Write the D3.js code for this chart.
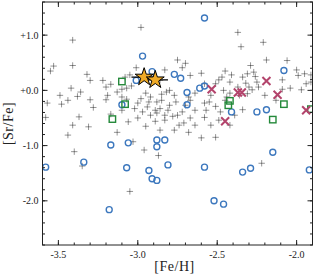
<!DOCTYPE html>
<html><head><meta charset="utf-8">
<script src="https://cdn.jsdelivr.net/npm/d3@7"></script>
<style>body{margin:0;background:#fff}svg{display:block}</style>
</head><body>
<script>
// ---- data ----
const plusFeH = [-3.41,-3.53,-3.55,-3.41,-3.32,-3.30,-3.22,-3.17,-3.20,-3.42,-3.36,-3.38,-3.49,-3.57,-3.48,-3.44,-3.30,-3.28,-3.19,-3.20,-3.13,-3.10,-3.07,-3.04,-3.08,-3.05,-3.10,-3.58,-3.37,-3.41,-3.31,-3.17,-3.13,-3.06,-3.44,-3.10,-3.07,-3.40,-3.35,-3.03,
 -2.75,-2.70,-3.01,-2.72,-2.83,-2.67,-2.60,-2.86,-2.49,-2.51,-2.58,-2.80,-2.82,-2.85,-2.77,-2.98,-2.92,-2.93,-2.88,-2.76,-2.68,-2.58,-2.55,-3.02,-2.97,-2.94,-2.89,-2.88,-2.86,-2.64,-2.51,-2.72,-2.48,-2.78,-2.89,-2.83,-2.71,-2.58,-2.49,-2.74,-2.77,-2.60,-2.51,-2.45,-2.47,
 -2.35,-2.21,-2.37,-2.98,-2.29,-2.19,-2.06,-2.00,-1.95,-1.91,-2.41,-2.34,-2.27,-2.26,-2.09,-2.42,-2.32,-2.30,-2.25,-2.28,-2.24,-2.04,-1.97,-1.94,-2.46,-2.42,-2.44,-2.31,-2.34,-1.91,-1.99,-2.09,-2.31,-2.37,-2.36,
 -2.87,-2.22,-2.96,-3.05,
 -2.95,-3.00,-2.85,-2.80,-2.70,-2.67,-2.64,-2.54,-2.45,-2.83,-2.81,-2.75,-2.67,-2.64,-2.57,-2.54,-2.92,-3.00,-2.95,-2.86,-2.68,-2.42,-2.39,-2.20,-2.13];
const plusSrFe = [0.91,0.44,0.35,0.45,0.29,0.18,0.18,0.11,0.06,0.04,-0.03,-0.11,-0.09,-0.23,-0.25,-0.18,-0.17,-0.31,-0.09,-0.17,-0.03,0.02,0.04,0.08,0.24,0.28,-0.12,-0.49,-0.48,-0.63,-0.66,-0.43,-0.76,-0.57,-0.81,-0.36,-0.16,-1.11,-1.37,-0.93,
 0.55,0.49,0.41,0.41,0.37,0.27,0.31,0.18,0.19,0.12,0.12,0.00,-0.03,-0.07,-0.09,-0.15,-0.12,-0.21,-0.21,-0.21,-0.12,-0.23,-0.21,-0.33,-0.39,-0.30,-0.36,-0.41,-0.33,-0.36,-0.29,-0.39,-0.39,-0.47,-0.56,-0.54,-0.59,-0.49,-0.54,-0.63,-0.72,-0.86,-0.85,0.35,0.24,
 0.79,0.87,1.05,1.14,0.45,0.55,0.54,0.37,0.30,0.28,0.28,0.24,0.33,0.25,0.19,0.15,0.13,0.06,0.15,0.01,0.06,0.04,0.01,0.12,0.00,-0.05,-0.12,-0.06,-0.35,0.15,0.27,0.02,0.30,0.06,-0.09,
 -1.18,-1.32,-1.08,-1.83,
 -0.05,-0.23,-0.18,-0.27,-0.27,-0.18,-0.05,-0.09,-0.18,-0.45,-0.36,-0.45,-0.50,-0.63,-0.36,-0.63,-0.45,-0.50,-0.65,-0.72,-0.76,-0.63,-0.45,-0.09,-0.18];

const circFeH = [-2.58,-2.97,-2.91,-3.01,-2.77,-2.73,-2.69,-2.61,-2.58,-2.69,-3.10,-2.08,-2.41,-2.25,-2.19,-3.58,-3.34,-3.17,-3.06,-3.07,-3.18,-2.88,-2.83,-2.88,-2.93,-2.91,-2.88,-2.81,-2.58,-2.52,-2.46,-2.34,-2.29,-2.15,-1.92];
const circSrFe = [1.31,0.62,0.34,0.18,0.29,0.22,-0.04,0.04,0.08,-0.26,-0.26,0.36,-0.39,-0.39,-0.35,-1.39,-1.30,-0.99,-0.95,-1.40,-2.16,-0.90,-0.90,-1.02,-1.45,-1.60,-1.63,-1.35,-1.39,-2.00,-2.06,-1.48,-1.41,-1.12,-1.44];

const sqFeH = [-3.10,-3.08,-3.16,-2.42,-2.43,-2.08,-2.15,-1.91];
const sqSrFe = [0.16,-0.25,-0.52,-0.19,-0.27,-0.25,-0.53,-0.34];

const xFeH = [-2.535,-2.19,-2.37,-2.345,-2.12,-2.45,-1.94];
const xSrFe = [0.02,0.17,-0.04,-0.04,-0.08,-0.56,-0.36];

const starFeH = [-2.96,-2.89];
const starSrFe = [0.24,0.19];
const starErr = [0.08,0.08];

const xTicks = [-3.5,-3.0,-2.5,-2.0];
const yTicks = [1.0,0.0,-1.0,-2.0];
const yTickLabels = ["+1.0","+0.0","-1.0","-2.0"];
const xTickLabels = ["-3.5","-3.0","-2.5","-2.0"];

// ---- layout ----
const W=314,H=278, m={l:42.5,t:2,r:1.5,b:33};
const svg=d3.select("body").append("svg").attr("width",W).attr("height",H);
const x=d3.scaleLinear().domain([-3.6,-1.9]).range([m.l,W-m.r]);
const y=d3.scaleLinear().domain([-2.8,1.6]).range([H-m.b,m.t]);
const serif="'Liberation Serif','Times New Roman',serif";

const clip=svg.append("clipPath").attr("id","c").append("rect")
 .attr("x",m.l).attr("y",m.t).attr("width",W-m.r-m.l).attr("height",H-m.b-m.t);
const g=svg.append("g").attr("clip-path","url(#c)");

// pluses
g.append("g").selectAll("path").data(plusFeH.map((d,i)=>[d,plusSrFe[i]])).join("path")
 .attr("d",d=>{const cx=x(d[0]),cy=y(d[1]),s=3.2;return `M${cx-s},${cy}H${cx+s}M${cx},${cy-s}V${cy+s}`;})
 .attr("stroke","#000").attr("stroke-opacity",0.42).attr("stroke-width",1).attr("fill","none");

// circles
g.append("g").selectAll("circle").data(circFeH.map((d,i)=>[d,circSrFe[i]])).join("circle")
 .attr("cx",d=>x(d[0])).attr("cy",d=>y(d[1])).attr("r",3)
 .attr("fill","none").attr("stroke","#3d78be").attr("stroke-width",1.4);

// squares
g.append("g").selectAll("rect").data(sqFeH.map((d,i)=>[d,sqSrFe[i]])).join("rect")
 .attr("x",d=>x(d[0])-3.2).attr("y",d=>y(d[1])-3.2).attr("width",6.4).attr("height",6.4)
 .attr("fill","none").attr("stroke","#24893a").attr("stroke-width",1.4);

// X marks
g.append("g").selectAll("path").data(xFeH.map((d,i)=>[d,xSrFe[i]])).join("path")
 .attr("d",d=>{const cx=x(d[0]),cy=y(d[1]),s=4;return `M${cx-s},${cy-s}L${cx+s},${cy+s}M${cx-s},${cy+s}L${cx+s},${cy-s}`;})
 .attr("stroke","#b3446c").attr("stroke-width",2).attr("fill","none");

// stars with error bars
const sd=starFeH.map((d,i)=>({x:d,y:starSrFe[i],e:starErr[i]}));
g.append("g").selectAll("line").data(sd).join("line")
 .attr("x1",d=>x(d.x-d.e)).attr("x2",d=>x(d.x+d.e)).attr("y1",d=>y(d.y)).attr("y2",d=>y(d.y))
 .attr("stroke","#000").attr("stroke-width",1.3);
g.append("g").selectAll("path").data(sd).join("path")
 .attr("transform",d=>`translate(${x(d.x)},${y(d.y)})`)
 .attr("d",d3.symbol(d3.symbolStar,100))
 .attr("fill","#efaa27").attr("stroke","#000").attr("stroke-width",1);

// frame
const x0=m.l,x1=W-m.r,y0=m.t,y1=H-m.b;
svg.append("rect").attr("x",x0).attr("y",y0).attr("width",x1-x0).attr("height",y1-y0)
 .attr("fill","none").attr("stroke","#222").attr("stroke-width",1);

// ticks
const xMinor=d3.range(-3.6,-1.89,0.1);
const yMinor=d3.range(-2.8,1.61,0.2);
const tk=svg.append("g").attr("stroke","#222").attr("stroke-width",1);
xMinor.forEach(v=>{const px=x(v);tk.append("line").attr("x1",px).attr("x2",px).attr("y1",y1).attr("y2",y1-2.5);
 tk.append("line").attr("x1",px).attr("x2",px).attr("y1",y0).attr("y2",y0+2.5);});
xTicks.forEach(v=>{const px=x(v);tk.append("line").attr("x1",px).attr("x2",px).attr("y1",y1).attr("y2",y1-5);
 tk.append("line").attr("x1",px).attr("x2",px).attr("y1",y0).attr("y2",y0+5);});
yMinor.forEach(v=>{const py=y(v);tk.append("line").attr("x1",x0).attr("x2",x0+2.5).attr("y1",py).attr("y2",py);
 tk.append("line").attr("x1",x1).attr("x2",x1-2.5).attr("y1",py).attr("y2",py);});
yTicks.forEach(v=>{const py=y(v);tk.append("line").attr("x1",x0).attr("x2",x0+5).attr("y1",py).attr("y2",py);
 tk.append("line").attr("x1",x1).attr("x2",x1-5).attr("y1",py).attr("y2",py);});

// tick labels
svg.append("g").selectAll("text").data(xTicks).join("text")
 .attr("x",d=>x(d)).attr("y",y1+13).attr("text-anchor","middle")
 .attr("font-family",serif).attr("font-size",10).attr("fill","#222").text((d,i)=>xTickLabels[i]);
svg.append("g").selectAll("text").data(yTicks).join("text")
 .attr("x",x0-4).attr("y",d=>y(d)+3.5).attr("text-anchor","end")
 .attr("font-family",serif).attr("font-size",10).attr("fill","#222").text((d,i)=>yTickLabels[i]);

// axis titles
svg.append("text").attr("x",(x0+x1)/2-3).attr("y",271).attr("text-anchor","middle")
 .attr("font-family",serif).attr("font-size",14).attr("letter-spacing",0.5).attr("fill","#222").text("[Fe/H]");
svg.append("text").attr("transform",`translate(13,${(y0+y1)/2}) rotate(-90)`).attr("text-anchor","middle")
 .attr("font-family",serif).attr("font-size",14).attr("letter-spacing",0.5).attr("fill","#222").text("[Sr/Fe]");
</script>
</body></html>
